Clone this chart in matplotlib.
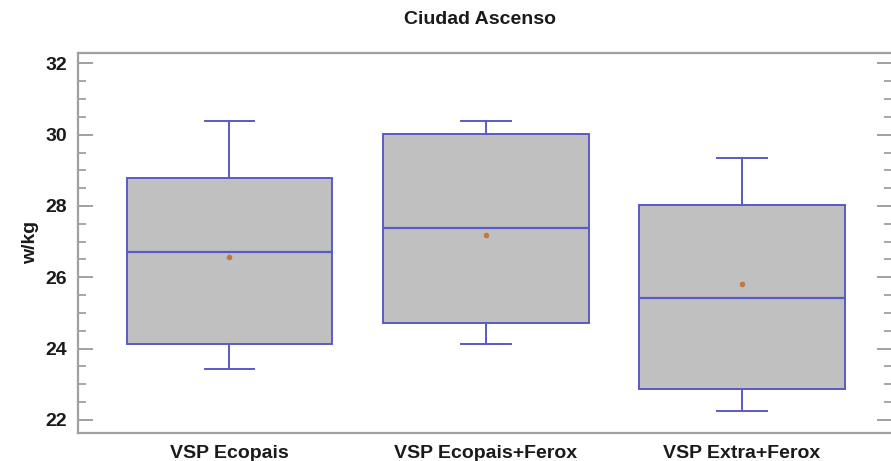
import matplotlib
matplotlib.use("Agg")
import matplotlib.pyplot as plt
from matplotlib.ticker import MultipleLocator

categories = ["VSP Ecopais", "VSP Ecopais+Ferox", "VSP Extra+Ferox"]
whislo = [23.44, 24.13, 22.25]
q1 = [24.13, 24.73, 22.87]
med = [26.72, 27.37, 25.41]
q3 = [28.78, 30.02, 28.03]
whishi = [30.39, 30.38, 29.35]
means = [26.58, 27.19, 25.82]
title = "Ciudad Ascenso"
ylabel = "w/kg"

plt.rcParams['font.family'] = ['Liberation Sans', 'DejaVu Sans']

fig = plt.figure(figsize=(8.91, 4.61), dpi=100)
ax = fig.add_axes([0.0879, 0.0614, 0.913, 0.8243])

stats = []
for i in range(len(categories)):
    stats.append(dict(label=categories[i], whislo=whislo[i], q1=q1[i], med=med[i],
                      q3=q3[i], whishi=whishi[i], mean=means[i], fliers=[]))

edge = '#5a5ac8'
ax.bxp(stats, positions=[1, 2, 3], widths=0.803, patch_artist=True, showmeans=True,
       showfliers=False,
       boxprops=dict(facecolor='#c0c0c0', edgecolor=edge, linewidth=1.4),
       medianprops=dict(color=edge, linewidth=1.6),
       whiskerprops=dict(color=edge, linewidth=1.4),
       capprops=dict(color=edge, linewidth=1.4),
       meanprops=dict(marker='o', markersize=3, markerfacecolor='#c07840',
                      markeredgecolor='#c07840'),
       capwidths=0.195)

ax.set_xlim(0.41, 3.585)
ax.set_ylim(21.64, 32.3)
ax.yaxis.set_major_locator(MultipleLocator(2))
ax.yaxis.set_minor_locator(MultipleLocator(0.5))

for side in ['left', 'bottom', 'top']:
    ax.spines[side].set_color('#a0a0a0')
    ax.spines[side].set_linewidth(1.6)
ax.spines['right'].set_visible(False)

ax.tick_params(axis='y', which='major', direction='in', length=10.5, width=1.4,
               color='#a0a0a0', left=True, right=True, pad=8, labelsize=14)
ax.tick_params(axis='y', which='minor', direction='in', length=5.8, width=1.3,
               color='#a0a0a0', left=True, right=True)
ax.tick_params(axis='x', length=0, pad=9, labelsize=14)
for lab in ax.get_yticklabels() + ax.get_xticklabels():
    lab.set_fontweight('bold')
    lab.set_color('#1a1a1a')

ax.set_ylabel(ylabel, fontsize=14, fontweight='bold', color='#1a1a1a', labelpad=5)
fig.text(0.5387, 0.957, title, ha='center', va='center', fontsize=14,
         fontweight='bold', color='#1a1a1a')

fig.savefig('out.png', dpi=100)
